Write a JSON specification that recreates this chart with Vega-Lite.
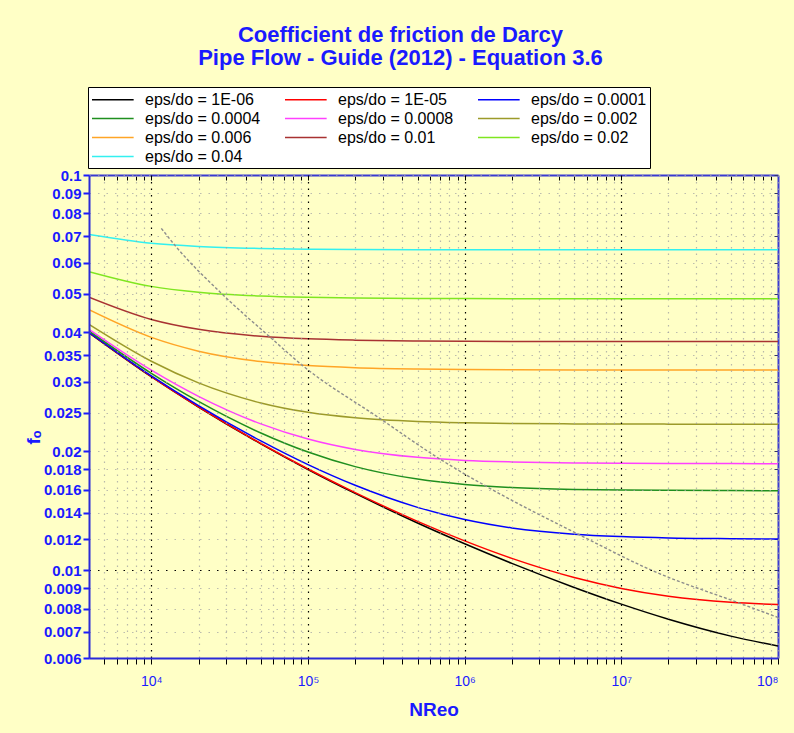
{
"$schema": "https://vega.github.io/schema/vega-lite/v6.json",
"width": 689, "height": 483,
"autosize": {"type": "none"},
"padding": {"left": 89, "top": 175, "right": 16, "bottom": 75},
"background": "#ffffc6",
"title": {"text": ["Coefficient de friction de Darcy", "Pipe Flow - Guide (2012) - Equation 3.6"], "font": "Liberation Sans", "fontSize": 22, "fontWeight": "bold", "color": "#1a1aff", "anchor": "middle", "frame": "group", "dx": -33, "offset": 17, "lineHeight": 23},
"config": {"view": {"stroke": null}},
"datasets": {
"cf": [
{"s":"eps/do = 1E-06","Re":4000,"f":0.0399},{"s":"eps/do = 1E-06","Re":10000,"f":0.03088},{"s":"eps/do = 1E-06","Re":20000,"f":0.02589},{"s":"eps/do = 1E-06","Re":50000,"f":0.02089},{"s":"eps/do = 1E-06","Re":100000,"f":0.01799},{"s":"eps/do = 1E-06","Re":200000,"f":0.01565},{"s":"eps/do = 1E-06","Re":500000,"f":0.01317},{"s":"eps/do = 1E-06","Re":1000000,"f":0.01167},{"s":"eps/do = 1E-06","Re":2000000,"f":0.01041},{"s":"eps/do = 1E-06","Re":5000000,"f":0.00905},{"s":"eps/do = 1E-06","Re":10000000,"f":0.00821},{"s":"eps/do = 1E-06","Re":20000000,"f":0.00752},{"s":"eps/do = 1E-06","Re":50000000,"f":0.006816},{"s":"eps/do = 1E-06","Re":100000000,"f":0.006433},
{"s":"eps/do = 1E-05","Re":4000,"f":0.03992},{"s":"eps/do = 1E-05","Re":10000,"f":0.0309},{"s":"eps/do = 1E-05","Re":20000,"f":0.02591},{"s":"eps/do = 1E-05","Re":50000,"f":0.02093},{"s":"eps/do = 1E-05","Re":100000,"f":0.01804},{"s":"eps/do = 1E-05","Re":200000,"f":0.01572},{"s":"eps/do = 1E-05","Re":500000,"f":0.0133},{"s":"eps/do = 1E-05","Re":1000000,"f":0.01187},{"s":"eps/do = 1E-05","Re":2000000,"f":0.01072},{"s":"eps/do = 1E-05","Re":5000000,"f":0.00959},{"s":"eps/do = 1E-05","Re":10000000,"f":0.009},{"s":"eps/do = 1E-05","Re":20000000,"f":0.0086},{"s":"eps/do = 1E-05","Re":50000000,"f":0.0083},{"s":"eps/do = 1E-05","Re":100000000,"f":0.00819},
{"s":"eps/do = 0.0001","Re":4000,"f":0.04001},{"s":"eps/do = 0.0001","Re":10000,"f":0.03104},{"s":"eps/do = 0.0001","Re":20000,"f":0.0261},{"s":"eps/do = 0.0001","Re":50000,"f":0.02125},{"s":"eps/do = 0.0001","Re":100000,"f":0.01851},{"s":"eps/do = 0.0001","Re":200000,"f":0.01641},{"s":"eps/do = 0.0001","Re":500000,"f":0.01443},{"s":"eps/do = 0.0001","Re":1000000,"f":0.01344},{"s":"eps/do = 0.0001","Re":2000000,"f":0.0128},{"s":"eps/do = 0.0001","Re":5000000,"f":0.01234},{"s":"eps/do = 0.0001","Re":10000000,"f":0.01217},{"s":"eps/do = 0.0001","Re":20000000,"f":0.01207},{"s":"eps/do = 0.0001","Re":50000000,"f":0.01202},{"s":"eps/do = 0.0001","Re":100000000,"f":0.012},
{"s":"eps/do = 0.0004","Re":4000,"f":0.04031},{"s":"eps/do = 0.0004","Re":10000,"f":0.0315},{"s":"eps/do = 0.0004","Re":20000,"f":0.02674},{"s":"eps/do = 0.0004","Re":50000,"f":0.02225},{"s":"eps/do = 0.0004","Re":100000,"f":0.01991},{"s":"eps/do = 0.0004","Re":200000,"f":0.01829},{"s":"eps/do = 0.0004","Re":500000,"f":0.01701},{"s":"eps/do = 0.0004","Re":1000000,"f":0.01649},{"s":"eps/do = 0.0004","Re":2000000,"f":0.0162},{"s":"eps/do = 0.0004","Re":5000000,"f":0.01602},{"s":"eps/do = 0.0004","Re":10000000,"f":0.01596},{"s":"eps/do = 0.0004","Re":20000000,"f":0.01593},{"s":"eps/do = 0.0004","Re":50000000,"f":0.01591},{"s":"eps/do = 0.0004","Re":100000000,"f":0.0159},
{"s":"eps/do = 0.0008","Re":4000,"f":0.04071},{"s":"eps/do = 0.0008","Re":10000,"f":0.03209},{"s":"eps/do = 0.0008","Re":20000,"f":0.02755},{"s":"eps/do = 0.0008","Re":50000,"f":0.02346},{"s":"eps/do = 0.0008","Re":100000,"f":0.02148},{"s":"eps/do = 0.0008","Re":200000,"f":0.02022},{"s":"eps/do = 0.0008","Re":500000,"f":0.01931},{"s":"eps/do = 0.0008","Re":1000000,"f":0.01897},{"s":"eps/do = 0.0008","Re":2000000,"f":0.0188},{"s":"eps/do = 0.0008","Re":5000000,"f":0.01869},{"s":"eps/do = 0.0008","Re":10000000,"f":0.01865},{"s":"eps/do = 0.0008","Re":20000000,"f":0.01863},{"s":"eps/do = 0.0008","Re":50000000,"f":0.01862},{"s":"eps/do = 0.0008","Re":100000000,"f":0.01861},
{"s":"eps/do = 0.002","Re":4000,"f":0.04188},{"s":"eps/do = 0.002","Re":10000,"f":0.03379},{"s":"eps/do = 0.002","Re":20000,"f":0.02979},{"s":"eps/do = 0.002","Re":50000,"f":0.02651},{"s":"eps/do = 0.002","Re":100000,"f":0.0251},{"s":"eps/do = 0.002","Re":200000,"f":0.02431},{"s":"eps/do = 0.002","Re":500000,"f":0.02379},{"s":"eps/do = 0.002","Re":1000000,"f":0.02361},{"s":"eps/do = 0.002","Re":2000000,"f":0.02351},{"s":"eps/do = 0.002","Re":5000000,"f":0.02346},{"s":"eps/do = 0.002","Re":10000000,"f":0.02344},{"s":"eps/do = 0.002","Re":20000000,"f":0.02343},{"s":"eps/do = 0.002","Re":50000000,"f":0.02342},{"s":"eps/do = 0.002","Re":100000000,"f":0.02342},
{"s":"eps/do = 0.006","Re":4000,"f":0.04561},{"s":"eps/do = 0.006","Re":10000,"f":0.03883},{"s":"eps/do = 0.006","Re":20000,"f":0.03584},{"s":"eps/do = 0.006","Re":50000,"f":0.03373},{"s":"eps/do = 0.006","Re":100000,"f":0.03295},{"s":"eps/do = 0.006","Re":200000,"f":0.03254},{"s":"eps/do = 0.006","Re":500000,"f":0.03229},{"s":"eps/do = 0.006","Re":1000000,"f":0.0322},{"s":"eps/do = 0.006","Re":2000000,"f":0.03216},{"s":"eps/do = 0.006","Re":5000000,"f":0.03213},{"s":"eps/do = 0.006","Re":10000000,"f":0.03213},{"s":"eps/do = 0.006","Re":20000000,"f":0.03212},{"s":"eps/do = 0.006","Re":50000000,"f":0.03212},{"s":"eps/do = 0.006","Re":100000000,"f":0.03212},
{"s":"eps/do = 0.01","Re":4000,"f":0.04908},{"s":"eps/do = 0.01","Re":10000,"f":0.04311},{"s":"eps/do = 0.01","Re":20000,"f":0.0407},{"s":"eps/do = 0.01","Re":50000,"f":0.03908},{"s":"eps/do = 0.01","Re":100000,"f":0.0385},{"s":"eps/do = 0.01","Re":200000,"f":0.03821},{"s":"eps/do = 0.01","Re":500000,"f":0.03803},{"s":"eps/do = 0.01","Re":1000000,"f":0.03796},{"s":"eps/do = 0.01","Re":2000000,"f":0.03794},{"s":"eps/do = 0.01","Re":5000000,"f":0.03792},{"s":"eps/do = 0.01","Re":10000000,"f":0.03791},{"s":"eps/do = 0.01","Re":20000000,"f":0.0379},{"s":"eps/do = 0.01","Re":50000000,"f":0.0379},{"s":"eps/do = 0.01","Re":100000000,"f":0.0379},
{"s":"eps/do = 0.02","Re":4000,"f":0.05696},{"s":"eps/do = 0.02","Re":10000,"f":0.05227},{"s":"eps/do = 0.02","Re":20000,"f":0.05052},{"s":"eps/do = 0.02","Re":50000,"f":0.04941},{"s":"eps/do = 0.02","Re":100000,"f":0.04903},{"s":"eps/do = 0.02","Re":200000,"f":0.04884},{"s":"eps/do = 0.02","Re":500000,"f":0.04872},{"s":"eps/do = 0.02","Re":1000000,"f":0.04868},{"s":"eps/do = 0.02","Re":2000000,"f":0.04866},{"s":"eps/do = 0.02","Re":5000000,"f":0.04865},{"s":"eps/do = 0.02","Re":10000000,"f":0.04864},{"s":"eps/do = 0.02","Re":20000000,"f":0.04864},{"s":"eps/do = 0.02","Re":50000000,"f":0.04864},{"s":"eps/do = 0.02","Re":100000000,"f":0.04864},
{"s":"eps/do = 0.04","Re":4000,"f":0.0707},{"s":"eps/do = 0.04","Re":10000,"f":0.06719},{"s":"eps/do = 0.04","Re":20000,"f":0.06595},{"s":"eps/do = 0.04","Re":50000,"f":0.06519},{"s":"eps/do = 0.04","Re":100000,"f":0.06493},{"s":"eps/do = 0.04","Re":200000,"f":0.0648},{"s":"eps/do = 0.04","Re":500000,"f":0.06472},{"s":"eps/do = 0.04","Re":1000000,"f":0.0647},{"s":"eps/do = 0.04","Re":2000000,"f":0.06468},{"s":"eps/do = 0.04","Re":5000000,"f":0.06467},{"s":"eps/do = 0.04","Re":10000000,"f":0.06467},{"s":"eps/do = 0.04","Re":20000000,"f":0.06467},{"s":"eps/do = 0.04","Re":50000000,"f":0.06467},{"s":"eps/do = 0.04","Re":100000000,"f":0.06467}
],
"limit": [
{"Re":11580,"f":0.0733},{"Re":14070,"f":0.06655},{"Re":28630,"f":0.04977},{"Re":58130,"f":0.03869},{"Re":92520,"f":0.03294},{"Re":284500,"f":0.02429},{"Re":703300,"f":0.01906},{"Re":1428000,"f":0.01617},{"Re":5483000,"f":0.01226},{"Re":15990000,"f":0.00996},{"Re":57280000,"f":0.00825},{"Re":100000000,"f":0.0076}
]
},
"resolve": {"axis": {"x": "independent", "y": "independent"}},
"layer": [
{
"mark": {"type": "rect", "color": {"gradient": "linear", "x1": 0, "y1": 0, "x2": 0, "y2": 1, "stops": [{"offset": 0, "color": "#ffffff"}, {"offset": 0.5, "color": "#fffcd2"}, {"offset": 1, "color": "#f8ee90"}]}},
"encoding": {
"x": {"datum": 4000, "type": "quantitative",
 "scale": {"type": "log", "domain": [4000, 100000000], "nice": false},
 "axis": {"orient": "bottom", "zindex": 1,
  "values": [5000,6000,7000,8000,9000,10000,20000,30000,40000,50000,60000,70000,80000,90000,100000,200000,300000,400000,500000,600000,700000,800000,900000,1000000,2000000,3000000,4000000,5000000,6000000,7000000,8000000,9000000,10000000,20000000,30000000,40000000,50000000,60000000,70000000,80000000,90000000,100000000],
  "labelExpr": "datum.value==1e4?'10⁴':datum.value==1e5?'10⁵':datum.value==1e6?'10⁶':datum.value==1e7?'10⁷':datum.value==1e8?'10⁸':''",
  "labelOverlap": false, "labelFont": "Liberation Sans", "labelFontSize": 14, "labelColor": "#1a1aff", "labelPadding": 10,
  "tickColor": "black", "tickSize": 6, "domainColor": "#2a2ad8", "domainWidth": 2,
  "grid": true,
  "gridColor": {"condition": {"test": "datum.value==1e4||datum.value==1e5||datum.value==1e6||datum.value==1e7", "value": "#000000"}, "value": "#a0a0a0"},
  "gridOpacity": {"condition": {"test": "datum.value==1e4||datum.value==1e5||datum.value==1e6||datum.value==1e7", "value": 1}, "value": 0.75},
  "gridDash": [1.5, 5],
  "gridWidth": 1.2,
  "title": "NReo", "titleFont": "Liberation Sans", "titleFontSize": 19, "titleFontWeight": "bold", "titleColor": "#1a1aff", "titlePadding": 12}},
"x2": {"datum": 100000000},
"y": {"datum": 0.1, "type": "quantitative",
 "scale": {"type": "log", "domain": [0.006, 0.1], "nice": false},
 "axis": {"orient": "left", "zindex": 1,
  "values": [0.006,0.007,0.008,0.009,0.01,0.012,0.014,0.016,0.018,0.02,0.025,0.03,0.035,0.04,0.05,0.06,0.07,0.08,0.09,0.1],
  "format": "~g", "labelOverlap": false, "labelFont": "Liberation Sans", "labelFontSize": 15, "labelFontWeight": "bold", "labelColor": "#1a1aff", "labelPadding": 2,
  "tickColor": "#1a1aff", "tickSize": 6, "tickWidth": 2, "domainColor": "#2a2ad8", "domainWidth": 2,
  "grid": true,
  "gridColor": {"condition": {"test": "datum.value==0.01", "value": "#000000"}, "value": "#a5a5a5"},
  "gridOpacity": {"condition": {"test": "datum.value==0.01", "value": 1}, "value": 0.75},
  "gridDash": [1.5, 7],
  "gridWidth": 1.2,
  "title": "fₒ", "titleFont": "Liberation Sans", "titleFontSize": 19, "titleFontWeight": "bold", "titleColor": "#1a1aff", "titleX": -46, "titleY": 262}},
"y2": {"datum": 0.006}
}
},
{
"data": {"name": "cf"},
"mark": {"type": "line", "strokeWidth": 1.5, "interpolate": "monotone", "clip": true},
"encoding": {
"x": {"field": "Re", "type": "quantitative", "scale": {"type": "log", "domain": [4000, 100000000], "nice": false}, "axis": null},
"y": {"field": "f", "type": "quantitative", "scale": {"type": "log", "domain": [0.006, 0.1], "nice": false}, "axis": null},
"color": {"field": "s", "type": "nominal",
 "scale": {"domain": ["eps/do = 1E-06","eps/do = 1E-05","eps/do = 0.0001","eps/do = 0.0004","eps/do = 0.0008","eps/do = 0.002","eps/do = 0.006","eps/do = 0.01","eps/do = 0.02","eps/do = 0.04"],
  "range": ["#000000","#ff0000","#0000ff","#1f8f1f","#ff40ff","#9c9a2a","#ffa526","#a83232","#7fe620","#33f0f0"]},
 "legend": {"orient": "none", "legendX": -1, "legendY": -88, "columns": 3, "direction": "horizontal", "title": null,
  "fillColor": "#ffffff", "strokeColor": "#000000", "padding": 3,
  "labelFont": "Liberation Sans", "labelFontSize": 16, "labelColor": "#000000", "labelOffset": 35,
  "symbolType": "M-1,0H3.9", "symbolSize": 289, "symbolStrokeWidth": 1.5,
  "columnPadding": 21, "rowPadding": 1}},
"detail": {"field": "s"}
}
},
{
"data": {"name": "limit"},
"mark": {"type": "line", "strokeWidth": 1.4, "color": "#8c8c8c", "strokeDash": [3, 2], "interpolate": "monotone", "clip": true},
"encoding": {
"x": {"field": "Re", "type": "quantitative", "scale": {"type": "log", "domain": [4000, 100000000], "nice": false},
 "axis": {"orient": "top", "values": [5000,6000,7000,8000,9000,10000,20000,30000,40000,50000,60000,70000,80000,90000,100000,200000,300000,400000,500000,600000,700000,800000,900000,1000000,2000000,3000000,4000000,5000000,6000000,7000000,8000000,9000000,10000000,20000000,30000000,40000000,50000000,60000000,70000000,80000000,90000000,100000000], "labels": false, "tickColor": "#000000", "tickSize": -5, "domainColor": "#3a3ad0", "domainWidth": 2, "grid": false, "title": null}},
"y": {"field": "f", "type": "quantitative", "scale": {"type": "log", "domain": [0.006, 0.1], "nice": false},
 "axis": {"orient": "right", "values": [0.006,0.007,0.008,0.009,0.01,0.012,0.014,0.016,0.018,0.02,0.025,0.03,0.035,0.04,0.05,0.06,0.07,0.08,0.09,0.1], "labels": false, "tickColor": "#333366", "tickSize": -4, "domainColor": "#3a3ad0", "domainWidth": 2, "grid": false, "title": null}}
}
}
]
}
